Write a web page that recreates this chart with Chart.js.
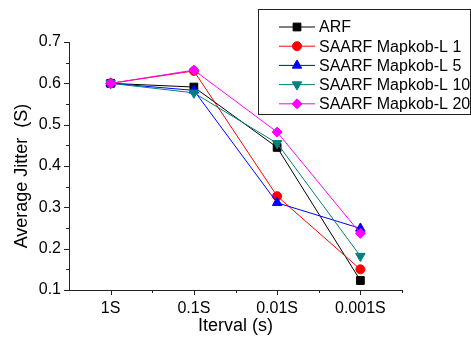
<!DOCTYPE html>
<html>
<head>
<meta charset="utf-8">
<script src="https://cdn.jsdelivr.net/npm/chart.js@4"></script>
<style>
  html, body { margin: 0; padding: 0; background: #fff; }
  #wrap { width: 471px; height: 340px; }
</style>
</head>
<body>
<div id="wrap"><canvas id="myChart" width="471" height="340"></canvas></div>
<script>

// DONNEES //

const intervals = ['1S', '0.1S', '0.01S', '0.001S'];
const yTicks = [0.1, 0.2, 0.3, 0.4, 0.5, 0.6, 0.7];

const arf = [0.600, 0.591, 0.445, 0.123];
const markov1 = [0.600, 0.630, 0.327, 0.150];
const markov5 = [0.600, 0.583, 0.311, 0.249];
const markov10 = [0.600, 0.577, 0.455, 0.182];
const markov20 = [0.600, 0.632, 0.482, 0.237];

const FONT = "'Liberation Sans', Arial, sans-serif";


// TICKS + LEGENDE + TITRES (dessinés à la main) //

const originStyle = {
  id: 'originStyle',
  afterDraw(chart) {
    const c = chart.ctx;
    const x = chart.scales.x;
    const y = chart.scales.y;
    const area = chart.chartArea;

    c.save();
    c.strokeStyle = '#222';
    c.lineWidth = 1;
    c.beginPath();
    // y ticks, majeurs et mineurs
    for (let v = 0.1; v <= 0.7001; v += 0.05) {
      const py = Math.round(y.getPixelForValue(v)) + 0.5;
      const major = Math.abs(v * 10 - Math.round(v * 10)) < 0.01;
      c.moveTo(area.left, py);
      c.lineTo(area.left - (major ? 5 : 3), py);
    }
    // x ticks
    for (let i = 0; i < intervals.length; i++) {
      const px = Math.round(x.getPixelForValue(i)) + 0.5;
      c.moveTo(px, area.bottom);
      c.lineTo(px, area.bottom + 5);
      const pm = Math.round(x.getPixelForValue(i + 0.5)) + 0.5;
      c.moveTo(pm, area.bottom);
      c.lineTo(pm, area.bottom + 3);
    }
    c.stroke();

    // titres
    c.fillStyle = '#000';
    c.font = '18px ' + FONT;
    c.textAlign = 'center';
    c.textBaseline = 'middle';
    c.fillText('Iterval (s)', (area.left + area.right) / 2, 326);
    c.save();
    c.translate(22, 176);
    c.rotate(-Math.PI / 2);
    c.fillText('Average Jitter  (S)', 0, 0);
    c.restore();

    // legende
    c.strokeStyle = '#222';
    c.strokeRect(258.5, 9.5, 212, 105);
    c.font = '16px ' + FONT;
    c.textAlign = 'left';
    chart.data.datasets.forEach((ds, i) => {
      const ry = 27 + i * 19.2;
      c.strokeStyle = ds.borderColor;
      c.lineWidth = 1;
      c.beginPath();
      c.moveTo(279, ry);
      c.lineTo(315, ry);
      c.stroke();
      c.fillStyle = ds.backgroundColor;
      Chart.helpers.drawPoint(c, {
        pointStyle: ds.pointStyle,
        radius: ds.pointRadius,
        rotation: ds.pointRotation || 0,
        borderWidth: 1
      }, 297, ry);
      c.fillStyle = '#000';
      c.fillText(ds.label, 319, ry + 1);
    });
    c.restore();
  }
};


// GRAPHIQUE //

const ctx = document.getElementById('myChart');

const serie = (label, data, color, style, radius, rotation, order) => ({
  label: label,
  data: data,
  borderColor: color,
  backgroundColor: color,
  borderWidth: 1,
  pointStyle: style,
  pointRadius: radius,
  pointRotation: rotation,
  pointBorderWidth: 1,
  pointHoverRadius: radius,
  order: order,
  tension: 0
});

new Chart(ctx, {
  type: 'line',
  data: {
    labels: intervals,
    datasets: [
      serie('ARF', arf, '#000000', 'rect', 5.5, 0, 5),
      serie('SAARF Mapkob-L 1', markov1, '#ff0000', 'circle', 4.5, 0, 4),
      serie('SAARF Mapkob-L 5', markov5, '#0000ff', 'triangle', 5.5, 0, 3),
      serie('SAARF Mapkob-L 10', markov10, '#008080', 'triangle', 5.5, 180, 2),
      serie('SAARF Mapkob-L 20', markov20, '#ff00ff', 'rectRot', 5, 0, 1)
    ]
  },
  options: {
    responsive: false,
    animation: false,
    events: [],
    layout: {
      padding: { top: 42, right: 69, left: 0, bottom: 0 }
    },
    plugins: {
      legend: false,
      tooltip: false
    },
    scales: {
      x: {
        type: 'category',
        offset: true,
        afterFit: (s) => { s.height = 50; },
        grid: { drawOnChartArea: false, color: 'transparent', tickLength: 5 },
        border: { color: '#222', width: 1 },
        ticks: { color: '#000', padding: 4, font: { family: FONT, size: 16 } }
      },
      y: {
        min: 0.1,
        max: 0.7,
        afterFit: (s) => { s.width = 69; },
        afterBuildTicks: (s) => { s.ticks = yTicks.map(v => ({ value: v })); },
        grid: { drawOnChartArea: false, color: 'transparent', tickLength: 5 },
        border: { color: '#222', width: 1 },
        ticks: {
          color: '#000',
          padding: 3,
          font: { family: FONT, size: 16 },
          callback: (v) => Number(v).toFixed(1)
        }
      }
    }
  },
  plugins: [originStyle]
});

</script>
</body>
</html>
